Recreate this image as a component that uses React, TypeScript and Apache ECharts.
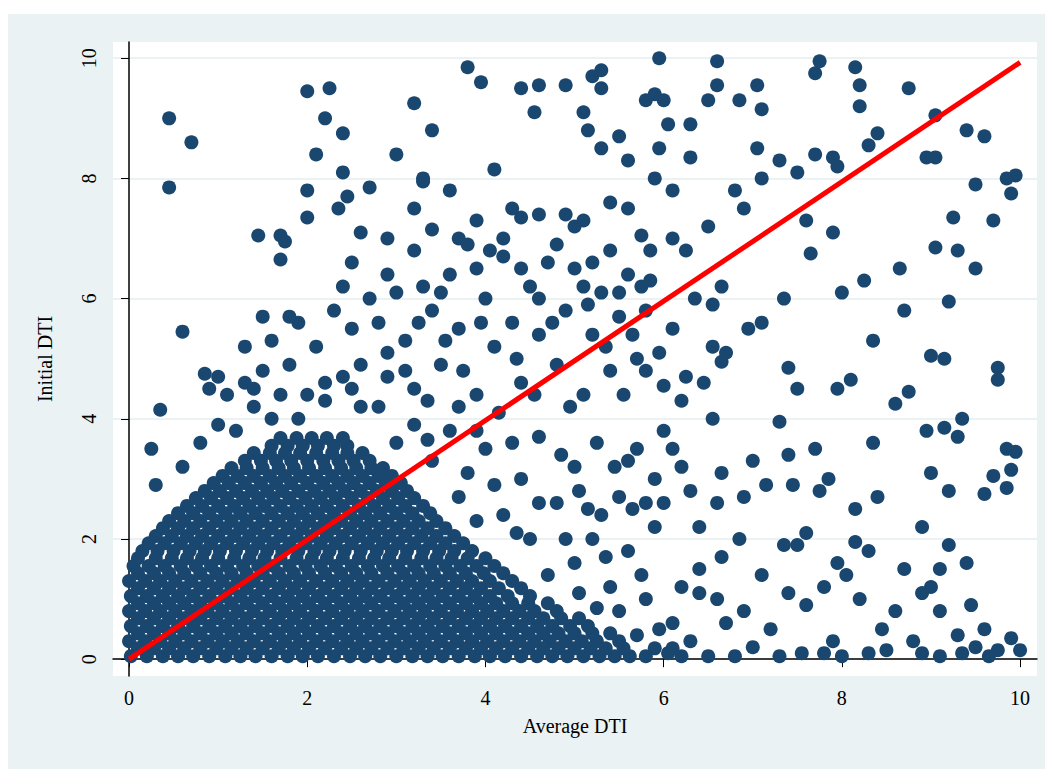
import { useEffect, useRef } from "react"
import * as echarts from "echarts"

// 稠密区：每行 [y, x 列表]
const denseRows: [number, number[]][] = [
  [0.05, [0.02, 0.2, 0.38, 0.55, 0.72, 0.9, 1.08, 1.25, 1.42, 1.6, 1.78, 1.95, 2.12, 2.3, 2.48, 2.65, 2.82, 3.0, 3.18, 3.35, 3.52, 3.7, 3.88, 4.05, 4.22, 4.4, 4.58, 4.75, 4.92, 5.1, 5.28, 5.45, 5.62, 5.8]],
  [0.3, [0.0, 0.18, 0.35, 0.52, 0.7, 0.88, 1.05, 1.22, 1.4, 1.58, 1.75, 1.92, 2.1, 2.28, 2.45, 2.62, 2.8, 2.98, 3.15, 3.32, 3.5, 3.68, 3.85, 4.02, 4.2, 4.38, 4.55, 4.72, 4.9, 5.08, 5.25, 5.5]],
  [0.55, [0.02, 0.2, 0.38, 0.55, 0.72, 0.9, 1.08, 1.25, 1.42, 1.6, 1.78, 1.95, 2.12, 2.3, 2.48, 2.65, 2.82, 3.0, 3.18, 3.35, 3.52, 3.7, 3.88, 4.05, 4.22, 4.4, 4.58, 4.75, 4.95, 5.15]],
  [0.8, [0.0, 0.18, 0.35, 0.52, 0.7, 0.88, 1.05, 1.22, 1.4, 1.58, 1.75, 1.92, 2.1, 2.28, 2.45, 2.62, 2.8, 2.98, 3.15, 3.32, 3.5, 3.68, 3.85, 4.02, 4.2, 4.38, 4.55, 4.8]],
  [1.05, [0.02, 0.2, 0.38, 0.55, 0.72, 0.9, 1.08, 1.25, 1.42, 1.6, 1.78, 1.95, 2.12, 2.3, 2.48, 2.65, 2.82, 3.0, 3.18, 3.35, 3.52, 3.7, 3.88, 4.05, 4.25, 4.5]],
  [1.3, [0.0, 0.18, 0.35, 0.52, 0.7, 0.88, 1.05, 1.22, 1.4, 1.58, 1.75, 1.92, 2.1, 2.28, 2.45, 2.62, 2.8, 2.98, 3.15, 3.32, 3.5, 3.68, 3.85, 4.05, 4.3]],
  [1.55, [0.05, 0.22, 0.4, 0.58, 0.75, 0.92, 1.1, 1.28, 1.45, 1.62, 1.8, 1.98, 2.15, 2.32, 2.5, 2.68, 2.85, 3.02, 3.2, 3.38, 3.55, 3.72, 3.9, 4.1]],
  [1.8, [0.15, 0.32, 0.5, 0.68, 0.85, 1.02, 1.2, 1.38, 1.55, 1.72, 1.9, 2.08, 2.25, 2.42, 2.6, 2.78, 2.95, 3.12, 3.3, 3.48, 3.65, 3.85]],
  [2.05, [0.3, 0.48, 0.65, 0.82, 1.0, 1.18, 1.35, 1.52, 1.7, 1.88, 2.05, 2.22, 2.4, 2.58, 2.75, 2.92, 3.1, 3.28, 3.45, 3.65]],
  [2.3, [0.45, 0.62, 0.8, 0.98, 1.15, 1.32, 1.5, 1.68, 1.85, 2.02, 2.2, 2.38, 2.55, 2.72, 2.9, 3.08, 3.25, 3.45]],
  [2.55, [0.65, 0.82, 1.0, 1.18, 1.35, 1.52, 1.7, 1.88, 2.05, 2.22, 2.4, 2.58, 2.75, 2.92, 3.1, 3.3]],
  [2.8, [0.85, 1.02, 1.2, 1.38, 1.55, 1.72, 1.9, 2.08, 2.25, 2.42, 2.6, 2.78, 2.95, 3.12]],
  [3.05, [1.05, 1.22, 1.4, 1.58, 1.75, 1.92, 2.1, 2.28, 2.45, 2.62, 2.8, 2.95]],
  [3.3, [1.3, 1.48, 1.65, 1.82, 2.0, 2.18, 2.35, 2.52, 2.7]],
  [3.55, [1.6, 1.78, 1.95, 2.12, 2.3, 2.45]],
]

// 稠密区交错行，填补空隙
const denseRowsOffset: [number, number[]][] = [
  [0.18, [0.1, 0.28, 0.45, 0.62, 0.8, 0.98, 1.15, 1.32, 1.5, 1.68, 1.85, 2.02, 2.2, 2.38, 2.55, 2.72, 2.9, 3.08, 3.25, 3.42, 3.6, 3.78, 3.95, 4.12, 4.3, 4.48, 4.65, 4.82, 5.0, 5.18, 5.35, 5.55, 5.9, 6.1]],
  [0.43, [0.1, 0.28, 0.45, 0.62, 0.8, 0.98, 1.15, 1.32, 1.5, 1.68, 1.85, 2.02, 2.2, 2.38, 2.55, 2.72, 2.9, 3.08, 3.25, 3.42, 3.6, 3.78, 3.95, 4.12, 4.3, 4.48, 4.65, 4.82, 5.0, 5.2, 5.4]],
  [0.68, [0.1, 0.28, 0.45, 0.62, 0.8, 0.98, 1.15, 1.32, 1.5, 1.68, 1.85, 2.02, 2.2, 2.38, 2.55, 2.72, 2.9, 3.08, 3.25, 3.42, 3.6, 3.78, 3.95, 4.12, 4.3, 4.48, 4.65, 4.85, 5.05]],
  [0.93, [0.1, 0.28, 0.45, 0.62, 0.8, 0.98, 1.15, 1.32, 1.5, 1.68, 1.85, 2.02, 2.2, 2.38, 2.55, 2.72, 2.9, 3.08, 3.25, 3.42, 3.6, 3.78, 3.95, 4.12, 4.3, 4.48, 4.7]],
  [1.18, [0.1, 0.28, 0.45, 0.62, 0.8, 0.98, 1.15, 1.32, 1.5, 1.68, 1.85, 2.02, 2.2, 2.38, 2.55, 2.72, 2.9, 3.08, 3.25, 3.42, 3.6, 3.78, 3.95, 4.15, 4.4]],
  [1.43, [0.1, 0.28, 0.45, 0.62, 0.8, 0.98, 1.15, 1.32, 1.5, 1.68, 1.85, 2.02, 2.2, 2.38, 2.55, 2.72, 2.9, 3.08, 3.25, 3.42, 3.6, 3.78, 3.98, 4.2]],
  [1.68, [0.1, 0.3, 0.48, 0.65, 0.82, 1.0, 1.18, 1.35, 1.52, 1.7, 1.88, 2.05, 2.22, 2.4, 2.58, 2.75, 2.92, 3.1, 3.28, 3.45, 3.62, 3.8, 4.0]],
  [1.93, [0.22, 0.4, 0.58, 0.75, 0.92, 1.1, 1.28, 1.45, 1.62, 1.8, 1.98, 2.15, 2.32, 2.5, 2.68, 2.85, 3.02, 3.2, 3.38, 3.55, 3.75]],
  [2.18, [0.38, 0.55, 0.72, 0.9, 1.08, 1.25, 1.42, 1.6, 1.78, 1.95, 2.12, 2.3, 2.48, 2.65, 2.82, 3.0, 3.18, 3.35, 3.55]],
  [2.43, [0.55, 0.72, 0.9, 1.08, 1.25, 1.42, 1.6, 1.78, 1.95, 2.12, 2.3, 2.48, 2.65, 2.82, 3.0, 3.18, 3.38]],
  [2.68, [0.75, 0.92, 1.1, 1.28, 1.45, 1.62, 1.8, 1.98, 2.15, 2.32, 2.5, 2.68, 2.85, 3.02, 3.2]],
  [2.93, [0.95, 1.12, 1.3, 1.48, 1.65, 1.82, 2.0, 2.18, 2.35, 2.52, 2.7, 2.88, 3.05]],
  [3.18, [1.15, 1.32, 1.5, 1.68, 1.85, 2.02, 2.2, 2.38, 2.55, 2.72, 2.85]],
  [3.43, [1.4, 1.58, 1.75, 1.92, 2.1, 2.28, 2.45, 2.62]],
  [3.68, [1.7, 1.88, 2.05, 2.22, 2.4]],
]

// 零散点 [x, y]
const sparsePoints: [number, number][] = [
  [0.45, 9.0], [0.45, 7.85], [0.7, 8.6], [2.0, 9.45], [2.25, 9.5], [2.2, 9.0], [2.1, 8.4], [2.4, 8.75], [2.4, 8.1], [2.45, 7.7], [2.7, 7.85], [3.2, 9.25], [3.4, 8.8], [3.8, 9.85], [3.95, 9.6], [4.1, 8.15], [4.4, 9.5], [4.55, 9.1], [4.6, 9.55], [4.9, 9.55], [5.1, 9.1], [5.2, 9.7], [5.3, 9.5], [5.3, 9.8], [5.15, 8.8], [5.5, 8.7], [5.8, 9.3], [5.9, 9.4], [5.95, 10.0], [6.0, 9.3], [6.05, 8.9], [5.95, 8.5], [6.3, 8.9], [6.5, 9.3], [6.6, 9.95], [6.6, 9.55], [6.85, 9.3], [7.05, 9.55], [7.1, 9.15], [7.05, 8.5], [7.7, 9.75], [7.75, 9.95], [8.15, 9.85], [8.2, 9.55], [8.2, 9.2], [8.75, 9.5], [9.05, 9.05], [9.4, 8.8], [9.6, 8.7], [9.95, 8.05], [9.9, 7.75], [9.85, 8.0],
  [1.45, 7.05], [1.7, 7.05], [1.7, 6.65], [1.75, 6.95], [2.0, 7.35], [2.0, 7.8], [2.35, 7.5], [2.6, 7.1], [2.9, 7.0], [3.0, 8.4], [3.2, 7.5], [3.3, 7.95], [3.4, 7.15], [3.6, 7.8], [3.9, 7.3], [4.2, 7.0], [4.4, 7.35], [4.6, 7.4], [4.9, 7.4], [5.0, 7.2], [5.3, 8.5], [5.6, 8.3], [5.9, 8.0], [6.1, 7.8], [6.3, 8.35], [6.5, 7.2], [6.8, 7.8], [6.9, 7.5], [7.1, 8.0], [7.3, 8.3], [7.5, 8.1], [7.7, 8.4], [7.9, 8.35], [7.95, 8.2], [8.4, 8.75], [8.3, 8.55], [8.95, 8.35], [9.05, 8.35], [9.25, 7.35], [9.5, 7.9], [9.7, 7.3], [9.05, 6.85], [9.3, 6.8], [9.5, 6.5], [8.65, 6.5], [8.25, 6.3], [8.0, 6.1], [7.9, 7.1], [7.6, 7.3], [7.65, 6.75], [7.35, 6.0], [7.1, 5.6], [6.95, 5.5], [6.65, 6.2], [6.55, 5.9], [6.25, 6.8], [6.1, 7.0], [5.75, 7.05], [5.85, 6.3],
  [9.2, 5.95], [9.15, 5.0], [9.0, 5.05], [8.7, 5.8], [8.35, 5.3], [8.1, 4.65], [7.95, 4.5], [7.5, 4.5], [7.4, 4.85], [7.3, 3.95], [7.4, 3.4], [7.7, 3.5], [7.85, 3.0], [8.35, 3.6], [8.6, 4.25], [8.75, 4.45], [8.95, 3.8], [9.15, 3.85], [9.3, 3.7], [9.35, 4.0], [9.75, 4.85], [9.75, 4.65], [9.85, 3.5], [9.95, 3.45], [9.6, 2.75], [9.7, 3.05], [9.9, 3.15], [9.85, 2.85], [9.2, 2.8], [9.0, 3.1], [8.9, 2.2], [8.4, 2.7], [8.15, 2.5], [8.15, 1.95], [7.75, 2.8], [7.6, 2.1], [7.45, 2.9], [7.35, 1.9], [7.15, 2.9], [7.0, 3.3], [6.9, 2.7], [6.65, 3.1], [6.6, 2.6], [6.4, 2.2], [6.3, 2.8], [6.2, 3.2], [6.1, 3.5], [6.0, 3.8], [6.55, 4.0], [6.65, 4.95], [6.55, 5.2], [6.45, 4.6], [6.25, 4.7], [6.2, 4.3], [6.0, 4.55], [5.8, 4.8], [5.7, 3.5], [5.6, 3.3], [5.9, 3.0], [5.5, 2.7], [5.3, 2.4], [5.15, 2.5],
  [6.2, 1.2], [6.4, 1.5], [6.6, 1.0], [6.7, 0.6], [6.9, 0.8], [7.1, 1.4], [7.2, 0.5], [7.4, 1.1], [7.5, 1.9], [7.6, 0.9], [7.8, 1.2], [7.9, 0.3], [8.05, 1.4], [8.2, 1.0], [8.3, 0.1], [8.45, 0.5], [8.6, 0.8], [8.7, 1.5], [8.8, 0.3], [9.0, 1.2], [9.1, 0.8], [9.2, 1.9], [9.3, 0.4], [9.45, 0.9], [9.5, 0.2], [9.6, 0.5], [9.75, 0.15], [9.9, 0.35], [10.0, 0.15], [9.1, 0.05], [8.5, 0.15], [8.0, 0.05], [7.55, 0.1], [7.0, 0.2], [6.5, 0.05], [6.3, 0.3], [6.8, 0.05], [7.3, 0.05], [7.8, 0.1], [8.9, 0.1], [9.35, 0.1], [9.65, 0.05], [9.4, 1.6], [9.1, 1.5], [8.9, 1.1], [8.3, 1.8], [7.95, 1.6], [6.85, 2.0], [6.65, 1.7], [6.4, 1.1], [6.1, 0.6], [6.05, 0.1], [6.2, 0.05],
  [1.2, 3.8], [1.0, 4.7], [0.9, 4.5], [1.1, 4.4], [1.4, 4.2], [1.5, 4.8], [1.3, 5.2], [1.6, 5.3], [1.8, 4.9], [1.9, 5.6], [2.1, 5.2], [2.2, 4.6], [2.3, 5.8], [2.4, 6.2], [2.5, 5.5], [2.6, 4.9], [2.7, 6.0], [2.8, 5.6], [2.9, 4.7], [3.0, 6.1], [3.1, 5.3], [3.2, 4.5], [3.3, 6.2], [3.4, 5.8], [3.5, 4.9], [3.6, 6.4], [3.7, 5.5], [3.8, 6.9], [3.9, 4.4], [4.0, 6.0], [4.1, 5.2], [4.2, 6.7], [4.3, 5.6], [4.4, 4.6], [4.5, 6.2], [4.6, 5.4], [4.7, 6.6], [4.8, 4.9], [4.9, 5.8], [5.0, 6.5], [5.1, 4.4], [5.2, 5.4], [5.3, 6.1], [5.4, 4.8], [5.5, 5.7], [5.6, 6.4], [5.7, 5.0], [3.0, 3.6], [3.2, 3.9], [3.4, 3.3], [3.6, 3.8], [3.8, 3.1], [4.0, 3.5], [4.2, 2.4], [4.4, 3.0], [4.5, 2.0], [4.6, 3.7], [4.8, 2.6], [5.0, 3.2], [5.0, 1.6], [5.2, 2.0], [5.4, 1.2], [5.6, 1.8], [5.8, 1.0], [5.9, 2.2], [5.5, 0.8], [4.7, 1.4], [2.6, 4.2], [2.2, 4.3], [1.9, 4.0], [1.6, 4.0], [0.8, 3.6], [0.6, 3.2], [0.3, 2.9], [0.25, 3.5], [0.35, 4.15], [0.6, 5.45], [0.85, 4.75], [1.3, 4.6], [1.5, 5.7], [1.8, 5.7], [3.3, 8.0], [3.9, 6.5], [4.3, 7.5], [5.4, 6.8], [5.6, 7.5], [5.1, 7.3], [5.4, 7.6], [5.8, 5.8], [6.1, 5.5], [5.85, 6.8], [6.35, 6.0], [6.7, 5.1],
  // 中部补充点
  [2.0, 4.4], [2.4, 4.7], [2.8, 4.2], [3.1, 4.8], [3.35, 4.3], [3.55, 5.3], [3.75, 4.8], [3.95, 5.6], [4.15, 4.1], [4.35, 5.0], [4.55, 4.4], [4.75, 5.6], [4.95, 4.2], [5.15, 5.9], [5.35, 5.2], [5.55, 4.4], [5.75, 6.2], [2.5, 6.6], [2.9, 6.4], [3.2, 6.8], [3.5, 6.1], [3.7, 7.0], [4.05, 6.8], [4.4, 6.5], [4.8, 6.9], [5.2, 6.6], [3.35, 3.65], [3.7, 4.2], [3.9, 3.8], [4.1, 2.9], [4.3, 3.6], [4.6, 2.6], [4.85, 3.4], [5.05, 2.8], [5.25, 3.6], [5.45, 3.2], [5.65, 2.5], [5.35, 1.7], [5.75, 1.4], [4.9, 2.0], [4.35, 2.1], [3.9, 2.3], [3.7, 2.7], [1.0, 3.9], [1.4, 4.5], [1.7, 4.4], [2.5, 4.5], [2.9, 5.1], [3.25, 5.6], [4.6, 6.0], [5.1, 6.2], [5.5, 6.1], [5.65, 5.4], [5.95, 5.1], [6.0, 2.6], [5.8, 2.6], [5.7, 0.4], [5.95, 0.5], [5.25, 0.85], [5.05, 1.1],
]

// 拟合线端点
const fitLine: [number, number][] = [[0, 0], [10, 9.93]]

const ticks = [0, 2, 4, 6, 8, 10]

export default function App() {
  const chartRef = useRef<HTMLDivElement>(null)

  useEffect(() => {
    if (!chartRef.current) return
    const chart = echarts.init(chartRef.current, null, { renderer: "svg" })

    const points: [number, number][] = []
    denseRows.forEach(([y, xs]) => xs.forEach((x) => points.push([x, y])))
    denseRowsOffset.forEach(([y, xs]) => xs.forEach((x) => points.push([x, y])))
    sparsePoints.forEach((p) => points.push(p))

    const axisCommon = {
      axisLine: { show: true, lineStyle: { color: "#000", width: 1.5 } },
      axisTick: { show: true, length: 8, lineStyle: { color: "#000" } },
      splitLine: { show: false },
      axisLabel: {
        color: "#000",
        fontFamily: "Liberation Serif",
        fontSize: 20,
        customValues: ticks,
      },
      nameTextStyle: { color: "#000", fontFamily: "Liberation Serif", fontSize: 20 },
      nameLocation: "middle" as const,
    }

    chart.setOption({
      animation: false,
      backgroundColor: "#fff",
      graphic: [
        { type: "rect", shape: { x: 8, y: 14, width: 1037, height: 755 }, style: { fill: "#eaf2f3" }, z: -10 },
      ],
      grid: { left: 113, right: 8, top: 42, bottom: 93, show: true, backgroundColor: "#fff", borderWidth: 0 },
      xAxis: {
        ...axisCommon,
        type: "value",
        min: -0.18,
        max: 10.19,
        name: "Average DTI",
        nameGap: 40,
        axisTick: { ...axisCommon.axisTick, customValues: ticks },
        axisLabel: { ...axisCommon.axisLabel, margin: 12 },
      },
      yAxis: {
        ...axisCommon,
        type: "value",
        min: -0.28,
        max: 10.27,
        name: "Initial DTI",
        nameGap: 58,
        axisTick: { ...axisCommon.axisTick, customValues: ticks },
        axisLabel: { ...axisCommon.axisLabel, rotate: 90, margin: 14 },
        splitLine: { show: true, lineStyle: { color: "#eaf2f3", width: 2 } },
      },
      series: [
        {
          type: "scatter",
          data: points,
          symbolSize: 14,
          itemStyle: { color: "#1a476f", opacity: 1 },
          silent: true,
        },
        {
          type: "line",
          data: fitLine,
          showSymbol: false,
          lineStyle: { color: "#ff0000", width: 5 },
          z: 5,
        },
      ],
    })

    return () => chart.dispose()
  }, [])

  return <div ref={chartRef} style={{ position: "fixed", left: 0, top: 0, width: 1045, height: 769 }} />
}
